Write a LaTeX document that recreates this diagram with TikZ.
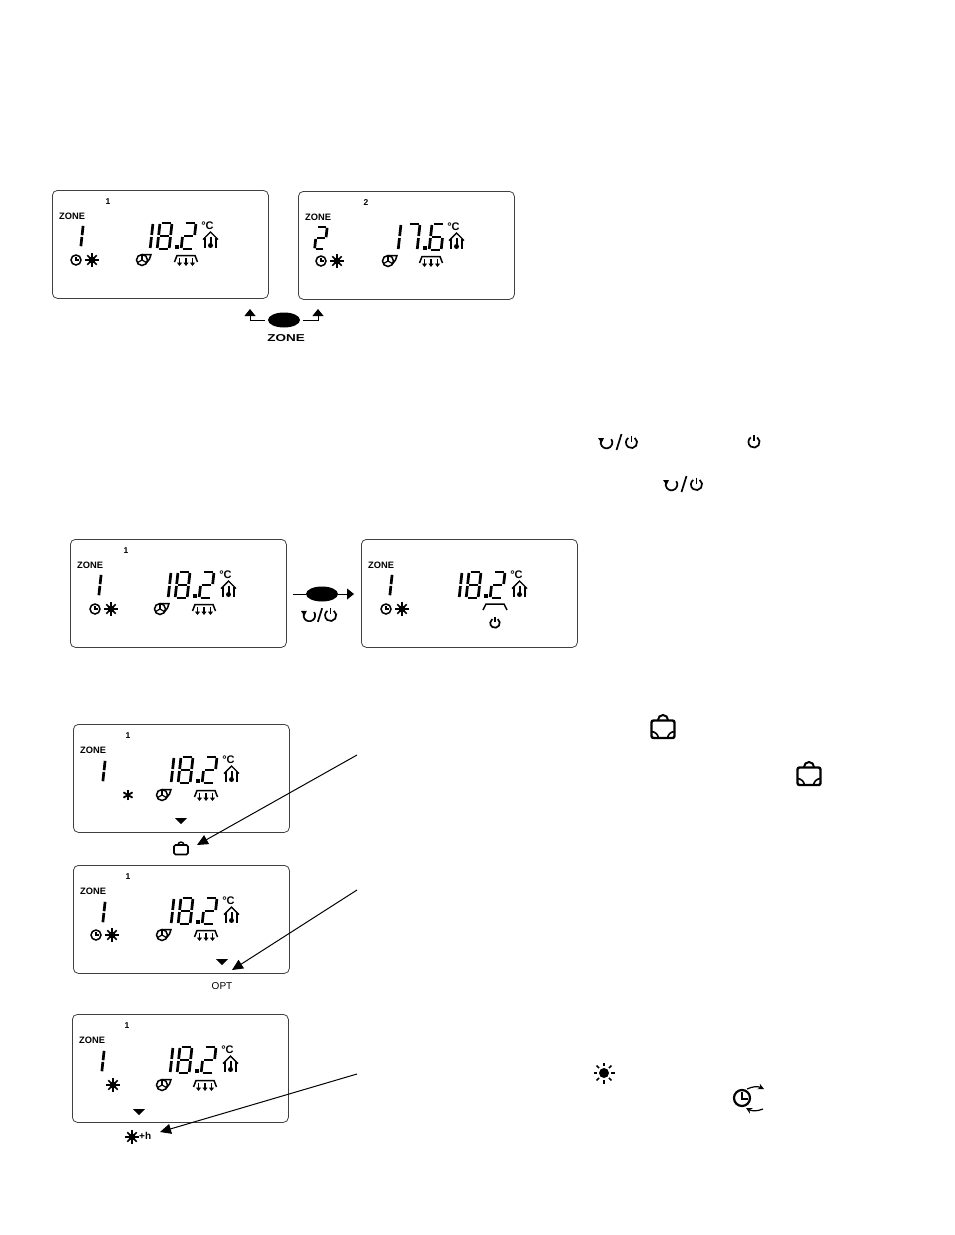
\documentclass[tikz,border=0pt]{standalone}
\usepackage{fontspec}
\setmainfont{Liberation Sans}
\usetikzlibrary{arrows.meta,shapes.geometric}

% digit segments
\newcommand{\sega}{(1.5,0) -- (10.5,0)}
\newcommand{\segb}{(12,1) -- (12,12)}
\newcommand{\segc}{(12,14) -- (12,25)}
\newcommand{\segd}{(1.5,26) -- (10.5,26)}
\newcommand{\sege}{(0,14) -- (0,25)}
\newcommand{\segf}{(0,1) -- (0,12)}
\newcommand{\segg}{(1.5,13) -- (10.5,13)}
\newcommand{\dOne}{b,c}
\newcommand{\dTwo}{a,b,g,e,d}
\newcommand{\dSix}{a,f,g,e,d,c}
\newcommand{\dSeven}{a,b,c}
\newcommand{\dEight}{a,b,c,d,e,f,g}
\newcommand{\segdigit}[4][1]{
  \begin{scope}[shift={(#2,#3)}, xslant=.11, scale=#1]
  \foreach \s in #4 {\draw[segm] \csname seg\s\endcsname;}
  \end{scope}
}

\tikzset{
  segm/.style={line width=2.7pt},
  lcd/.style={draw=black!75, line width=.8pt, rounded corners=5pt, anchor=north west,
    minimum width=216pt, minimum height=108pt, inner sep=0pt},
  zonelabel/.style={font=\fontsize{9.3}{10}\selectfont\bfseries, inner sep=0pt},
  toplabel/.style={font=\fontsize{8.5}{9}\selectfont\bfseries, inner sep=0pt},
  unitlabel/.style={font=\fontsize{11}{11}\selectfont\bfseries, inner sep=0pt},
  btn/.style={shape=ellipse, fill=black, minimum width=32pt, minimum height=15pt, inner sep=0pt},
  flow/.style={-{Triangle[length=7pt,width=11pt]}, line width=.9pt},
  pointer/.style={-{Triangle[length=11pt,width=10pt]}, line width=1pt},
  clockicon/.pic={
    \draw[line width=1.5pt] (0,0) circle (5);
    \draw[line width=1.2pt] (0,-3.5) -- (0,0) -- (3.2,0);
  },
  sunicon/.pic={
    \fill (0,0) circle (3.6);
    \foreach \a in {0,45,...,315} {\draw[line width=1.7pt] (\a:3) -- (\a:6.6);}
  },
  sunbig/.pic={
    \fill (0,0) circle (5);
    \foreach \a in {0,45,...,315} {\draw[line width=1.6pt] (\a:7) -- (\a:10.5);}
  },
  staricon/.pic={
    \foreach \a in {0,60,120} {\draw[line width=1.8pt] (\a+90:5.3) -- (\a+270:5.3);}
  },
  fanicon/.pic={
    \draw[line width=1.5pt] (0,0) circle (5.5);
    \draw[line width=1.5pt] (0,-5.5) -- (9,-5.5) -- (7.5,-1) -- (4,3.5);
    \foreach \a in {-90,30,150} {\draw[line width=1.2pt] (0,0) -- (\a:5);}
  },
  radicon/.pic={
    \draw[line width=1.5pt] (-11.5,2) -- (-9,-4.5) -- (9,-4.5) -- (11.5,2);
    \foreach \x in {-6.5,0,6.5} {\draw[line width=1.1pt, -{Triangle[length=3.5pt,width=5pt]}] (\x,-2) -- (\x,6);}
  },
  houseicon/.pic={
    \draw[line width=1.4pt] (-7.5,-.5) -- (0,-8) -- (7.5,-.5);
    \draw[line width=1.5pt] (-5.5,-2) -- (-5.5,8) (5.5,-2) -- (5.5,8);
    \draw[line width=2pt] (0,-3) -- (0,5);
    \fill (0,5.5) circle (2.5);
  },
  powericon/.pic={
    \draw[line width=1.7pt] (-55:5.6) arc[start angle=-55, end angle=235, radius=5.6];
    \draw[line width=1.7pt] (0,-7) -- (0,-1);
  },
  retryicon/.pic={
    \draw[line width=1.7pt] (-35:5.8) arc[start angle=-35, end angle=195, radius=5.8];
    \fill (-8.5,-4.5) -- (-2.5,-4.5) -- (-5,.5) -- cycle;
  },
  modeicon/.pic={
    \pic at (-12.5,.5) {retryicon};
    \draw[line width=1.7pt] (-2.5,8) -- (2.5,-8);
    \pic at (12.5,.5) {powericon};
  },
  caseicon/.pic={
    \draw[line width=1.6pt, rounded corners=1.5pt] (-7,-4) rectangle (7,5.5);
    \draw[line width=1.4pt] (-3,-4) arc[start angle=180, end angle=360, radius=3];
  },
  casebig/.pic={
    \draw[line width=2.4pt, rounded corners=2pt] (-11.5,-8.5) rectangle (11.5,9);
    \draw[line width=2pt] (-5,-9) arc[start angle=180, end angle=360, radius=5];
    \draw[line width=1.6pt] (-11,2.5) to[bend left=35] (-4.5,9);
    \draw[line width=1.6pt] (11,2.5) to[bend right=35] (4.5,9);
  },
  downmark/.pic={\fill (-6,-3) -- (6,-3) -- (0,3.2) -- cycle;},
}

% one display: name, x, y, shift of the reading, three digits
\newcommand{\lcdface}[7]{
  \node[lcd] (#1) at (#2,#3) {};
  \begin{scope}[shift={(#2,#3)}]
  \node[zonelabel, anchor=west] (#1-zone) at (7,26) {ZONE};
  \segdigit{\the\numexpr89+#4\relax}{33}{#5}
  \segdigit{\the\numexpr108+#4\relax}{33}{#6}
  \segdigit{\the\numexpr132+#4\relax}{33}{#7}
  \fill (\the\numexpr123+#4\relax,55) rectangle ++(4,4);
  \node[unitlabel] (#1-unit) at (155.5,35.5) {°C};
  \pic at (158.5,50) {houseicon};
  \end{scope}
}

\begin{document}
\begin{tikzpicture}[x=1pt,y=-1pt]
\useasboundingbox (0,0) rectangle (954,1235);
% zone key
\lcdface{lcdA}{52}{190}{0}{\dOne}{\dEight}{\dTwo}
\lcdface{lcdB}{298}{191}{2}{\dOne}{\dSeven}{\dSix}
\node[toplabel] (lcdAtop) at (108,202) {1};
\node[toplabel] (lcdBtop) at (366,203) {2};
\segdigit[.85]{73}{225}{\dOne}
\segdigit[.85]{317}{227}{\dTwo}
\pic at (76,260) {clockicon};
\pic at (92,260) {sunicon};
\pic at (142,260) {fanicon};
\pic at (186,260) {radicon};
\pic at (321,261) {clockicon};
\pic at (337,261) {sunicon};
\pic at (388,261) {fanicon};
\pic at (431,261) {radicon};
\node[btn] (zonebtn) at (284,320) {};
\node[font=\fontsize{10}{10}\selectfont\bfseries, xscale=1.35, inner sep=0pt] (zonetext) at (286,338) {ZONE};
\coordinate (upleft) at (250,309);
\coordinate (upright) at (318,309);
\draw[flow, shorten <=3pt] (zonebtn.west) -| (upleft);
\draw[flow, shorten <=3pt] (zonebtn.east) -| (upright);
% mode key
\pic at (619,442) {modeicon};
\pic at (754,442) {powericon};
\pic at (684,484) {modeicon};
\lcdface{lcdC}{70}{539}{0}{\dOne}{\dEight}{\dTwo}
\lcdface{lcdD}{361}{539}{0}{\dOne}{\dEight}{\dTwo}
\node[toplabel] (lcdCtop) at (126,551) {1};
\segdigit[.85]{91}{574}{\dOne}
\segdigit[.85]{382}{574}{\dOne}
\pic at (95,609) {clockicon};
\pic at (111,609) {sunicon};
\pic at (160,609) {fanicon};
\pic at (204,609) {radicon};
\pic at (386,609) {clockicon};
\pic at (402,609) {sunicon};
\draw[line width=1.5pt] (483,610) -- (486,604) -- (504,604) -- (507,610);
\pic[scale=.85] at (495,623) {powericon};
\coordinate (modefrom) at (293,594);
\coordinate (modeto) at (354,594);
\node[btn] (modebtn) at (322,594) {};
\draw[line width=.9pt] (modefrom) -- (modebtn);
\draw[flow] (modebtn) -- (modeto);
\pic[scale=.85] at (320,615) {modeicon};
% programme displays
\pic at (663,729) {casebig};
\pic at (809,776) {casebig};
\lcdface{lcdE}{73}{724}{0}{\dOne}{\dEight}{\dTwo}
\node[toplabel] (lcdEtop) at (128,736) {1};
\segdigit[.85]{95}{760}{\dOne}
\pic at (128,795) {staricon};
\pic at (162,795) {fanicon};
\pic at (206,795) {radicon};
\pic at (181,821) {downmark};
\pic at (181,849) {caseicon};
\coordinate (caseto) at (197,845);
\coordinate (casefrom) at (357,755);
\draw[pointer] (casefrom) -- (caseto);
\lcdface{lcdF}{73}{865}{0}{\dOne}{\dEight}{\dTwo}
\node[toplabel] (lcdFtop) at (128,877) {1};
\segdigit[.85]{95}{901}{\dOne}
\pic at (96,935) {clockicon};
\pic at (112,935) {sunicon};
\pic at (162,935) {fanicon};
\pic at (206,935) {radicon};
\pic at (222,962) {downmark};
\node[font=\fontsize{10}{10}\selectfont, inner sep=0pt] (opttext) at (222,986) {OPT};
\coordinate (optto) at (232,970);
\coordinate (optfrom) at (357,890);
\draw[pointer] (optfrom) -- (optto);
\lcdface{lcdG}{72}{1014}{0}{\dOne}{\dEight}{\dTwo}
\node[toplabel] (lcdGtop) at (127,1026) {1};
\segdigit[.85]{94}{1050}{\dOne}
\pic at (113,1085) {sunicon};
\pic at (162,1085) {fanicon};
\pic at (205,1085) {radicon};
\pic at (139,1112) {downmark};
\pic at (132,1137) {sunicon};
\node[font=\fontsize{10}{10}\selectfont\bfseries, inner sep=0pt, anchor=west] (sunhtext) at (139,1136) {+h};
\coordinate (sunhto) at (160,1132);
\coordinate (sunhfrom) at (357,1074);
\draw[pointer] (sunhfrom) -- (sunhto);
\pic at (604,1073) {sunbig};
\draw[line width=2.2pt] (742,1098) circle (8);
\draw[line width=1.5pt] (742,1092) -- (742,1099) -- (748,1099);
\draw[line width=1.2pt, -{Stealth[length=6pt,width=6pt]}] (747,1089) to[bend left=25] (764,1089);
\draw[line width=1.2pt, -{Stealth[length=6pt,width=6pt]}] (763,1109) to[bend left=25] (746,1108);
\end{tikzpicture}
\end{document}
